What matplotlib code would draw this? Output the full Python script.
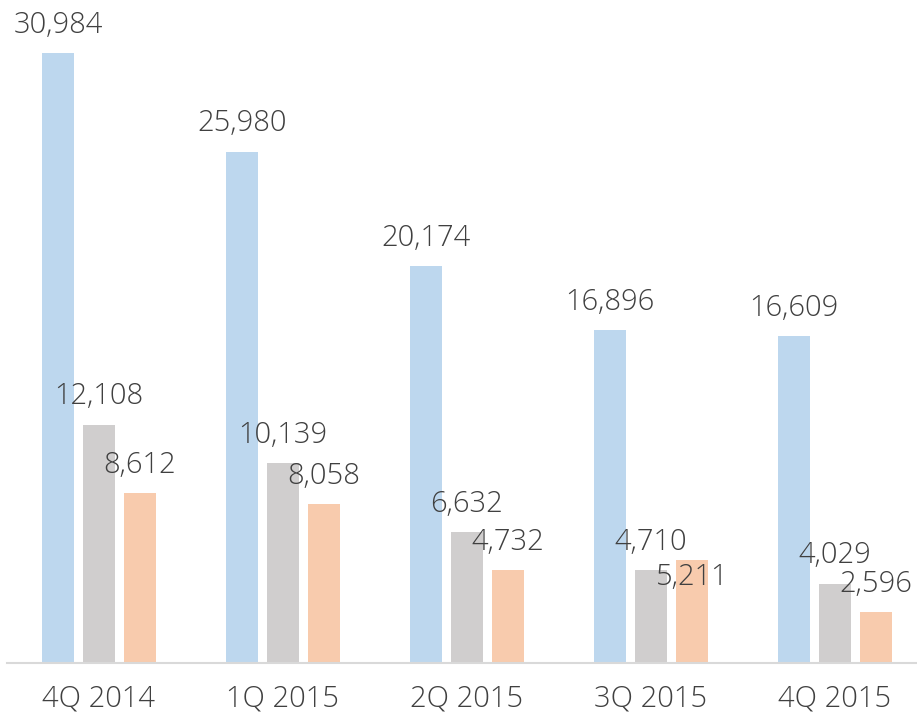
import numpy as np
import matplotlib
matplotlib.use("Agg")
import matplotlib.pyplot as plt

plt.rcParams["font.family"] = ["Open Sans", "DejaVu Sans"]

quarters = ["4Q 2014", "1Q 2015", "2Q 2015", "3Q 2015", "4Q 2015"]
series_blue = [30984, 25980, 20174, 16896, 16609]
series_gray = [12108, 10139, 6632, 4710, 4029]
series_orange = [8612, 8058, 4732, 5211, 2596]

colors = ["#BDD7EE", "#D0CECE", "#F8CBAD"]
text_color = "#404040"

# label nudges in pixels (series index, category index) -> offset
label_offsets = {(2, 3): -17}

fig = plt.figure(figsize=(9.17, 7.13), dpi=100)
ax = fig.add_axes([7 / 917, 50 / 713, 910 / 917, 663 / 713])

x = np.arange(len(quarters))
width = 32 / 184
step = 41 / 184

for s, (vals, col) in enumerate(zip([series_blue, series_gray, series_orange], colors)):
    pos = x + (s - 1) * step
    ax.bar(pos, vals, width=width, color=col, zorder=2)
    for c, (px, v) in enumerate(zip(pos, vals)):
        off = label_offsets.get((s, c), 28)
        ax.annotate(f"{v:,}", (px, v), xytext=(0, off), textcoords="offset pixels",
                    ha="center", va="center", fontsize=21, color=text_color,
                    fontweight="light", zorder=3)

ax.set_xlim(-0.5, -0.5 + 910 / 184)
ax.set_ylim(0, 663 / 610 * 30984)
ax.set_xticks(x)
ax.set_xticklabels(quarters, fontsize=21, color=text_color, fontweight="light")
ax.tick_params(axis="x", length=0, pad=15)
ax.set_yticks([])
for sp in ["top", "right", "left"]:
    ax.spines[sp].set_visible(False)
ax.spines["bottom"].set_color("#D9D9D9")
ax.spines["bottom"].set_linewidth(1.5)
ax.patch.set_alpha(0)

fig.savefig("out.png", dpi=100)
